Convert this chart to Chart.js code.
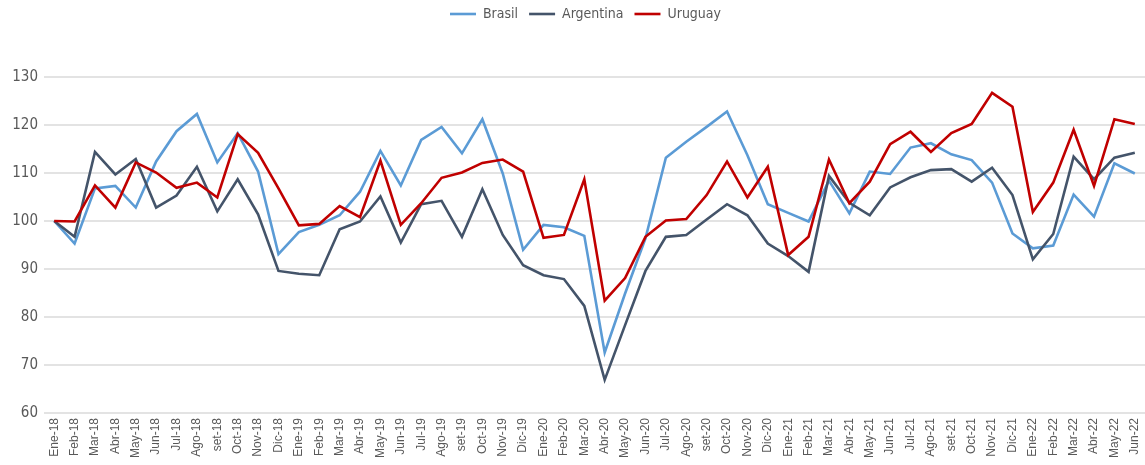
<!DOCTYPE html>
<html>
<head>
<meta charset="utf-8">
<script src="https://cdn.jsdelivr.net/npm/chart.js@4.4.0/dist/chart.umd.min.js"></script>
<style>
  html, body { margin: 0; padding: 0; background: #ffffff; }
  #wrap { width: 1145px; height: 465px; position: relative; }
</style>
</head>
<body>
<div id="wrap"><canvas id="c" width="1145" height="465"></canvas></div>
<script>
const categories = ["Ene-18","Feb-18","Mar-18","Abr-18","May-18","Jun-18","Jul-18","Ago-18","set-18","Oct-18","Nov-18","Dic-18",
  "Ene-19","Feb-19","Mar-19","Abr-19","May-19","Jun-19","Jul-19","Ago-19","set-19","Oct-19","Nov-19","Dic-19",
  "Ene-20","Feb-20","Mar-20","Abr-20","May-20","Jun-20","Jul-20","Ago-20","set-20","Oct-20","Nov-20","Dic-20",
  "Ene-21","Feb-21","Mar-21","Abr-21","May-21","Jun-21","Jul-21","Ago-21","set-21","Oct-21","Nov-21","Dic-21",
  "Ene-22","Feb-22","Mar-22","Abr-22","May-22","Jun-22"];

const brasil = [100,95.3,106.8,107.3,102.8,112.4,118.7,122.3,112.2,118.3,110.3,93.1,
  97.7,99.2,101.2,106.1,114.6,107.4,116.9,119.6,114.1,121.2,109.9,94.0,
  99.2,98.7,96.9,72.6,84.9,96.4,113.2,116.5,119.6,122.8,113.7,103.5,
  101.7,99.9,108.4,101.6,110.3,109.8,115.3,116.2,113.9,112.7,108.0,97.4,
  94.3,94.9,105.5,100.9,112.0,109.9];

const argentina = [100,96.7,114.4,109.7,112.9,102.8,105.3,111.3,102.0,108.7,101.4,89.6,
  89.0,88.7,98.3,99.9,105.1,95.5,103.5,104.2,96.7,106.6,97.1,90.8,
  88.7,87.9,82.3,66.9,78.3,89.6,96.7,97.1,100.3,103.5,101.2,95.3,
  92.7,89.4,109.4,103.8,101.2,107.0,109.1,110.6,110.8,108.2,111.1,105.4,
  92.0,97.3,113.4,108.7,113.2,114.2];

const uruguay = [100,99.9,107.4,102.8,112.2,110.1,106.9,108.0,104.9,118.1,114.2,106.8,
  99.1,99.4,103.1,100.8,112.6,99.2,103.7,109.0,110.1,112.1,112.8,110.3,
  96.5,97.1,108.7,83.4,88.1,96.7,100.1,100.4,105.4,112.4,104.9,111.3,
  92.9,96.7,112.8,103.7,108.2,116.0,118.6,114.4,118.3,120.2,126.7,123.8,
  101.9,108.0,119.0,107.3,121.2,120.2];

const yMin = 60, yMax = 130, yStep = 10;

const narrow = "'Liberation Sans Narrow', 'DejaVu Sans Condensed', 'Arial Narrow', sans-serif";

const legendHeightPlugin = {
  id: 'legendHeight',
  beforeInit(chart) {
    const origFit = chart.legend.fit;
    chart.legend.fit = function () {
      origFit.bind(chart.legend)();
      this.height = 81;
    };
  },
  afterLayout(chart) {
    if (chart.legend) {
      chart.legend.left += 13;
      chart.legend.right += 13;
    }
  }
};

new Chart(document.getElementById('c'), {
  type: 'line',
  data: {
    labels: categories,
    datasets: [
      { label: 'Brasil', data: brasil, borderColor: '#5B9BD5', backgroundColor: '#5B9BD5', borderWidth: 2.6, pointRadius: 0, tension: 0, order: 3 },
      { label: 'Argentina', data: argentina, borderColor: '#44546A', backgroundColor: '#44546A', borderWidth: 2.6, pointRadius: 0, tension: 0, order: 2 },
      { label: 'Uruguay', data: uruguay, borderColor: '#C00000', backgroundColor: '#C00000', borderWidth: 2.6, pointRadius: 0, tension: 0, order: 1 }
    ]
  },
  options: {
    responsive: false,
    animation: false,
    maintainAspectRatio: false,
    layout: { padding: { top: -4, left: 0, right: 0, bottom: 0 } },
    plugins: {
      legend: {
        position: 'top',
        align: 'center',
        labels: {
          usePointStyle: true,
          pointStyle: 'line',
          pointStyleWidth: 26,
          boxHeight: 14,
          padding: 11,
          color: '#595959',
          font: { family: narrow, size: 14 },
          sort: (a, b) => a.datasetIndex - b.datasetIndex
        }
      },
      tooltip: { enabled: false }
    },
    scales: {
      x: {
        offset: true,
        grid: { display: false, drawTicks: false },
        border: { display: false },
        ticks: {
          autoSkip: false,
          maxRotation: 90,
          minRotation: 90,
          padding: 5,
          color: '#595959',
          font: { family: "'Liberation Sans', Arial, sans-serif", size: 12 }
        },
        afterFit(scale) { scale.height = 52; scale.paddingRight = 0; scale.paddingLeft = 0; }
      },
      y: {
        min: yMin,
        max: yMax,
        ticks: {
          stepSize: yStep,
          padding: 6,
          color: '#595959',
          font: { family: narrow, size: 15 }
        },
        grid: { color: '#e3e3e3', lineWidth: 2, drawTicks: false },
        border: { display: false },
        afterFit(scale) { scale.width = 44; }
      }
    }
  },
  plugins: [legendHeightPlugin]
});
</script>
</body>
</html>
